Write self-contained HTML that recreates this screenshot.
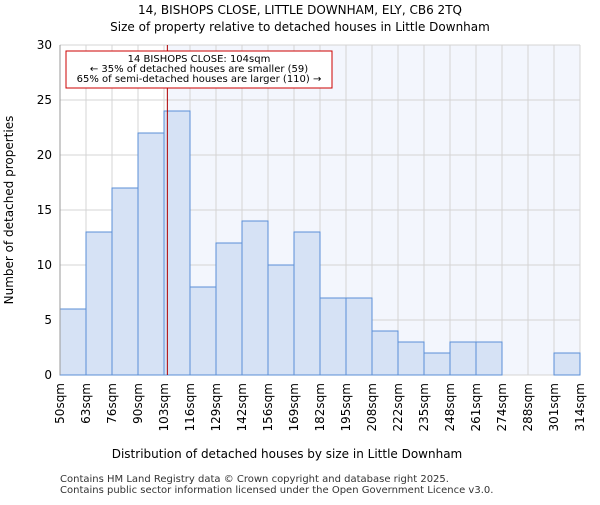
<!DOCTYPE html>
<html><head><meta charset="utf-8"><style>body{margin:0;background:#fff}svg{font-family:"DejaVu Sans","Liberation Sans",sans-serif}</style></head>
<body>
<svg width="600" height="500">
<g id="plot"></g>
<text x="300" y="14" font-size="12" text-anchor="middle">14, BISHOPS CLOSE, LITTLE DOWNHAM, ELY, CB6 2TQ</text>
<text x="300" y="31" font-size="12" text-anchor="middle">Size of property relative to detached houses in Little Downham</text>
<text x="287" y="458" font-size="12" text-anchor="middle">Distribution of detached houses by size in Little Downham</text>
<text transform="translate(13,210) rotate(-90)" font-size="12" text-anchor="middle">Number of detached properties</text>
<text x="60" y="482" font-size="10" fill="#333">Contains HM Land Registry data © Crown copyright and database right 2025.</text>
<text x="60" y="493" font-size="10" fill="#333">Contains public sector information licensed under the Open Government Licence v3.0.</text>
</svg>
<script>
const labels=["50sqm","63sqm","76sqm","90sqm","103sqm","116sqm","129sqm","142sqm","156sqm","169sqm","182sqm","195sqm","208sqm","222sqm","235sqm","248sqm","261sqm","274sqm","288sqm","301sqm","314sqm"];
const counts=[6,13,17,22,24,8,12,14,10,13,7,7,4,3,2,3,3,0,0,2];
const yTicks=[0,5,10,15,20,25,30];
const propertySize=104;
const binStart=50, binWidth=13.2;
const X0=60,X1=580,Y0=375,Y1=45;
const NS="http://www.w3.org/2000/svg";
const g=document.getElementById('plot');
const bw=(X1-X0)/counts.length;
const xs=v=>X0+(v-binStart)/binWidth*bw;
const ys=v=>Y0-(v/30)*(Y0-Y1);
function mk(t,a){const e=document.createElementNS(NS,t);for(const k in a)e.setAttribute(k,a[k]);g.appendChild(e);return e;}
const px=xs(propertySize);
let e=mk('rect',{x:px,y:Y1,width:X1-px,height:Y0-Y1,fill:'#f3f6fd'});


for(let i=0;i<=counts.length;i++){const x=X0+i*bw;e=mk('line',{x1:x,x2:x,y1:Y1,y2:Y0,stroke:'#d4d4d4'});

}
yTicks.forEach(t=>{const y=ys(t);e=mk('line',{x1:X0,x2:X1,y1:y,y2:y,stroke:'#d4d4d4'});


e=mk('text',{x:X0-8,y:y+4,'font-size':12,'text-anchor':'end'});e.textContent=t;

});
counts.forEach((c,i)=>{if(!c)return;e=mk('rect',{x:X0+i*bw,y:ys(c),width:bw,height:Y0-ys(c),fill:'#d6e2f5',stroke:'#5b8fd6','stroke-width':1});

});
labels.forEach((l,i)=>{const x=X0+i*bw;e=mk('text',{transform:`translate(${x+4},${Y0+8}) rotate(-90)`,'font-size':12,'text-anchor':'end'});e.textContent=l;

});
e=mk('line',{x1:X0,x2:X0,y1:Y1,y2:Y0,stroke:'#999'});


e=mk('line',{x1:px+1,x2:px+1,y1:Y1,y2:Y0,stroke:'#b00000','stroke-width':1});


e=mk('rect',{x:66,y:51,width:266,height:37,fill:'#fff',stroke:'#c00'});


["14 BISHOPS CLOSE: 104sqm","← 35% of detached houses are smaller (59)","65% of semi-detached houses are larger (110) →"].forEach((t,i)=>{e=mk('text',{x:199,y:62+i*10,'font-size':10,'text-anchor':'middle'});e.textContent=t;

});
</script>
</body></html>
